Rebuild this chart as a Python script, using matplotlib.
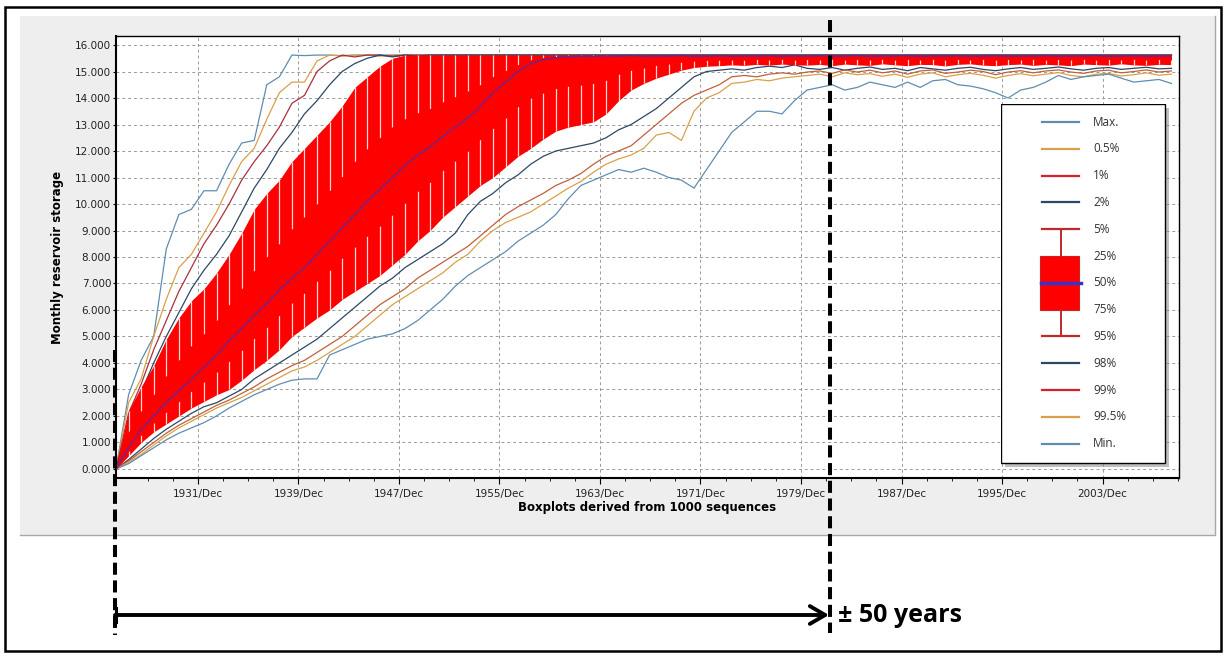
import numpy as np
import matplotlib
matplotlib.use("Agg")
import matplotlib.pyplot as plt
from matplotlib.patches import Rectangle
from matplotlib.ticker import FixedLocator

# one sample per year, first one in mid 1925
start_year = 1925.4

# storage percentiles (exceedance)
median = [0.0, 0.8, 1.5, 2.0, 2.5, 2.95, 3.4, 3.85, 4.3, 4.85,
          5.3, 5.8, 6.25, 6.75, 7.2, 7.6, 8.1, 8.6, 9.1, 9.6,
          10.1, 10.55, 11.0, 11.45, 11.85, 12.15, 12.55, 12.9, 13.25, 13.7,
          14.2, 14.6, 15.0, 15.3, 15.45, 15.52, 15.56, 15.58, 15.57, 15.59,
          15.58, 15.6, 15.57, 15.59, 15.58, 15.6, 15.57, 15.58, 15.6, 15.57,
          15.59, 15.58, 15.6, 15.57, 15.59, 15.58, 15.6, 15.57, 15.58, 15.6,
          15.57, 15.59, 15.58, 15.6, 15.57, 15.59, 15.58, 15.6, 15.57, 15.58,
          15.6, 15.57, 15.59, 15.58, 15.6, 15.57, 15.59, 15.58, 15.6, 15.57,
          15.58, 15.6, 15.57, 15.59, 15.58]
p5 = [0.0, 2.2, 3.1, 3.9, 4.9, 5.7, 6.35, 6.8, 7.4, 8.1,
      8.9, 9.8, 10.4, 10.9, 11.6, 12.1, 12.6, 13.1, 13.7, 14.4,
      14.8, 15.2, 15.5, 15.62, 15.62, 15.62, 15.62, 15.62, 15.62, 15.62,
      15.62, 15.62, 15.62, 15.62, 15.62, 15.62, 15.62, 15.62, 15.62, 15.62,
      15.62, 15.62, 15.62, 15.62, 15.62, 15.62, 15.62, 15.62, 15.62, 15.62,
      15.62, 15.62, 15.62, 15.62, 15.62, 15.62, 15.62, 15.62, 15.62, 15.62,
      15.62, 15.62, 15.62, 15.62, 15.62, 15.62, 15.62, 15.62, 15.62, 15.62,
      15.62, 15.62, 15.62, 15.62, 15.62, 15.62, 15.62, 15.62, 15.62, 15.62,
      15.62, 15.62, 15.62, 15.62, 15.62]
p25 = [0.0, 1.4, 2.17, 2.8, 3.5, 4.1, 4.64, 5.09, 5.6, 6.2,
       6.8, 7.48, 8.0, 8.5, 9.05, 9.5, 9.99, 10.5, 11.03, 11.6,
       12.07, 12.5, 12.9, 13.2, 13.43, 13.6, 13.84, 14.04, 14.25, 14.5,
       14.8, 15.03, 15.26, 15.43, 15.52, 15.56, 15.6, 15.6, 15.6, 15.6,
       15.61, 15.61, 15.61, 15.61, 15.61, 15.61, 15.61, 15.61, 15.61, 15.61,
       15.61, 15.61, 15.61, 15.61, 15.61, 15.61, 15.61, 15.61, 15.61, 15.61,
       15.61, 15.61, 15.61, 15.61, 15.61, 15.61, 15.61, 15.61, 15.61, 15.61,
       15.61, 15.61, 15.61, 15.61, 15.61, 15.61, 15.61, 15.61, 15.61, 15.61,
       15.61, 15.61, 15.61, 15.61, 15.61]
p75 = [0.0, 0.67, 1.29, 1.75, 2.16, 2.55, 2.94, 3.3, 3.67, 4.07,
       4.48, 4.94, 5.35, 5.8, 6.28, 6.65, 7.1, 7.5, 7.97, 8.38,
       8.8, 9.18, 9.6, 10.04, 10.48, 10.83, 11.27, 11.64, 12.0, 12.44,
       12.86, 13.26, 13.68, 14.0, 14.2, 14.36, 14.45, 14.5, 14.55, 14.68,
       14.9, 15.05, 15.15, 15.24, 15.3, 15.36, 15.4, 15.42, 15.44, 15.45,
       15.44, 15.46, 15.45, 15.47, 15.44, 15.46, 15.45, 15.47, 15.44, 15.46,
       15.45, 15.47, 15.44, 15.46, 15.45, 15.47, 15.44, 15.46, 15.45, 15.47,
       15.44, 15.46, 15.45, 15.47, 15.44, 15.46, 15.45, 15.47, 15.44, 15.46,
       15.45, 15.47, 15.44, 15.46, 15.45]
p95 = [0.0, 0.5, 1.0, 1.4, 1.7, 2.0, 2.3, 2.55, 2.8, 3.0,
       3.35, 3.75, 4.1, 4.5, 5.0, 5.35, 5.7, 6.0, 6.4, 6.7,
       7.0, 7.3, 7.7, 8.1, 8.6, 9.0, 9.5, 9.9, 10.3, 10.7,
       11.0, 11.4, 11.8, 12.1, 12.45, 12.75, 12.9, 13.0, 13.1, 13.4,
       13.9, 14.3, 14.55, 14.75, 14.9, 15.05, 15.15, 15.2, 15.22, 15.25,
       15.23, 15.27, 15.24, 15.28, 15.25, 15.24, 15.27, 15.22, 15.28, 15.25,
       15.23, 15.29, 15.25, 15.22, 15.27, 15.26, 15.21, 15.27, 15.29, 15.24,
       15.22, 15.26, 15.28, 15.23, 15.27, 15.25, 15.22, 15.28, 15.26, 15.24,
       15.29, 15.25, 15.23, 15.27, 15.26]

s_max = [0.0, 2.8, 4.1, 5.0, 8.3, 9.6, 9.8, 10.5, 10.5, 11.5,
         12.3, 12.4, 14.5, 14.8, 15.62, 15.6, 15.62, 15.62, 15.6, 15.62,
         15.62, 15.62, 15.62, 15.62, 15.62, 15.62, 15.62, 15.62, 15.62, 15.62,
         15.62, 15.62, 15.62, 15.62, 15.62, 15.62, 15.62, 15.62, 15.62, 15.62,
         15.62, 15.62, 15.62, 15.62, 15.62, 15.62, 15.62, 15.62, 15.62, 15.62,
         15.62, 15.62, 15.62, 15.62, 15.62, 15.62, 15.62, 15.62, 15.62, 15.62,
         15.62, 15.62, 15.62, 15.62, 15.62, 15.62, 15.62, 15.62, 15.62, 15.62,
         15.62, 15.62, 15.62, 15.62, 15.62, 15.62, 15.62, 15.62, 15.62, 15.62,
         15.62, 15.62, 15.62, 15.62, 15.62]
s_p0_5 = [0.0, 2.5, 3.4, 5.0, 6.4, 7.6, 8.1, 8.9, 9.7, 10.7,
          11.6, 12.1, 13.2, 14.2, 14.6, 14.6, 15.4, 15.62, 15.58, 15.62,
          15.62, 15.58, 15.62, 15.62, 15.62, 15.62, 15.62, 15.62, 15.62, 15.62,
          15.62, 15.62, 15.62, 15.62, 15.62, 15.62, 15.62, 15.62, 15.62, 15.62,
          15.62, 15.62, 15.62, 15.62, 15.62, 15.62, 15.62, 15.62, 15.62, 15.62,
          15.62, 15.62, 15.62, 15.62, 15.62, 15.62, 15.62, 15.62, 15.62, 15.62,
          15.62, 15.62, 15.62, 15.62, 15.62, 15.62, 15.62, 15.62, 15.62, 15.62,
          15.62, 15.62, 15.62, 15.62, 15.62, 15.62, 15.62, 15.62, 15.62, 15.62,
          15.62, 15.62, 15.62, 15.62, 15.62]
s_p1 = [0.0, 2.1, 3.2, 4.5, 5.6, 6.7, 7.6, 8.5, 9.2, 10.0,
        10.9, 11.6, 12.2, 12.9, 13.8, 14.1, 15.0, 15.4, 15.62, 15.55,
        15.62, 15.62, 15.58, 15.62, 15.62, 15.62, 15.62, 15.62, 15.62, 15.62,
        15.62, 15.62, 15.62, 15.62, 15.62, 15.62, 15.62, 15.62, 15.62, 15.62,
        15.62, 15.62, 15.62, 15.62, 15.62, 15.62, 15.62, 15.62, 15.62, 15.62,
        15.62, 15.62, 15.62, 15.62, 15.62, 15.62, 15.62, 15.62, 15.62, 15.62,
        15.62, 15.62, 15.62, 15.62, 15.62, 15.62, 15.62, 15.62, 15.62, 15.62,
        15.62, 15.62, 15.62, 15.62, 15.62, 15.62, 15.62, 15.62, 15.62, 15.62,
        15.62, 15.62, 15.62, 15.62, 15.62]
s_p2 = [0.0, 1.7, 2.9, 4.0, 5.0, 5.9, 6.8, 7.5, 8.1, 8.8,
        9.7, 10.6, 11.3, 12.1, 12.7, 13.4, 13.9, 14.5, 15.0, 15.3,
        15.5, 15.62, 15.55, 15.62, 15.58, 15.62, 15.62, 15.62, 15.62, 15.62,
        15.62, 15.62, 15.62, 15.62, 15.62, 15.62, 15.62, 15.62, 15.62, 15.62,
        15.62, 15.62, 15.62, 15.62, 15.62, 15.62, 15.62, 15.62, 15.62, 15.62,
        15.62, 15.62, 15.62, 15.62, 15.62, 15.62, 15.62, 15.62, 15.62, 15.62,
        15.62, 15.62, 15.62, 15.62, 15.62, 15.62, 15.62, 15.62, 15.62, 15.62,
        15.62, 15.62, 15.62, 15.62, 15.62, 15.62, 15.62, 15.62, 15.62, 15.62,
        15.62, 15.62, 15.62, 15.62, 15.62]
s_p98 = [0.0, 0.35, 0.75, 1.15, 1.5, 1.8, 2.1, 2.35, 2.5, 2.75,
         3.0, 3.4, 3.7, 4.0, 4.3, 4.6, 4.9, 5.3, 5.7, 6.1,
         6.5, 6.9, 7.2, 7.6, 7.9, 8.2, 8.5, 8.9, 9.6, 10.1,
         10.4, 10.8, 11.1, 11.5, 11.8, 12.0, 12.1, 12.2, 12.3, 12.5,
         12.8, 13.0, 13.3, 13.6, 14.0, 14.4, 14.8, 15.0, 15.05, 15.1,
         15.05, 15.15, 15.2, 15.15, 15.25, 15.12, 15.08, 15.15, 15.05, 15.12,
         15.17, 15.08, 15.12, 15.03, 15.15, 15.1, 15.05, 15.12, 15.16, 15.08,
         15.03, 15.1, 15.15, 15.08, 15.12, 15.17, 15.1, 15.05, 15.12, 15.15,
         15.08, 15.12, 15.16, 15.1, 15.12]
s_p99 = [0.0, 0.3, 0.65, 1.0, 1.35, 1.65, 1.9, 2.15, 2.4, 2.6,
         2.85, 3.1, 3.4, 3.65, 3.9, 4.1, 4.4, 4.7, 5.0, 5.4,
         5.8, 6.2, 6.5, 6.8, 7.2, 7.5, 7.8, 8.1, 8.4, 8.8,
         9.2, 9.6, 9.9, 10.15, 10.4, 10.7, 10.9, 11.15, 11.5, 11.8,
         12.0, 12.2, 12.6, 13.0, 13.4, 13.8, 14.1, 14.3, 14.5, 14.8,
         14.85, 14.8, 14.9, 14.95, 14.9, 14.98, 15.02, 14.93, 15.06, 14.98,
         15.05, 14.95, 15.02, 14.9, 15.02, 15.06, 14.93, 14.98, 15.05, 15.0,
         14.88, 14.98, 15.03, 14.95, 15.02, 15.06, 14.98, 14.93, 15.02, 15.05,
         14.95, 15.0, 15.06, 14.98, 15.02]
s_p99_5 = [0.0, 0.25, 0.55, 0.9, 1.25, 1.55, 1.8, 2.05, 2.3, 2.5,
           2.7, 2.95, 3.2, 3.45, 3.7, 3.85, 4.1, 4.4, 4.7, 5.0,
           5.4, 5.8, 6.2, 6.5, 6.8, 7.1, 7.4, 7.8, 8.1, 8.6,
           9.0, 9.3, 9.5, 9.7, 10.0, 10.3, 10.6, 10.85, 11.2, 11.5,
           11.7, 11.85, 12.1, 12.6, 12.7, 12.4, 13.5, 14.0, 14.2, 14.55,
           14.6, 14.7, 14.65, 14.75, 14.8, 14.85, 14.9, 14.8, 14.95, 14.88,
           14.92, 14.82, 14.9, 14.78, 14.9, 14.95, 14.8, 14.88, 14.93, 14.86,
           14.75, 14.85, 14.92, 14.84, 14.9, 14.96, 14.85, 14.8, 14.9, 14.93,
           14.83, 14.88, 14.95, 14.86, 14.9]
s_min = [0.0, 0.2, 0.5, 0.8, 1.1, 1.35, 1.55, 1.75, 2.0, 2.3,
         2.55, 2.8, 3.0, 3.2, 3.35, 3.4, 3.4, 4.3, 4.5, 4.7,
         4.9, 5.0, 5.1, 5.3, 5.6, 6.0, 6.4, 6.9, 7.3, 7.6,
         7.9, 8.2, 8.6, 8.9, 9.2, 9.6, 10.2, 10.7, 10.9, 11.1,
         11.3, 11.2, 11.35, 11.2, 11.0, 10.9, 10.6, 11.3, 12.0, 12.7,
         13.1, 13.5, 13.5, 13.4, 13.9, 14.3, 14.4, 14.5, 14.3, 14.4,
         14.6, 14.5, 14.4, 14.6, 14.4, 14.65, 14.7, 14.5, 14.45, 14.35,
         14.2, 14.0, 14.3, 14.4, 14.6, 14.85, 14.7, 14.8, 14.85, 14.9,
         14.75, 14.6, 14.65, 14.7, 14.55]

tick_years = [1931, 1939, 1947, 1955, 1963, 1971, 1979, 1987, 1995, 2003]
y_ticks = [0, 1, 2, 3, 4, 5, 6, 7, 8, 9, 10, 11, 12, 13, 14, 15, 16]

legend_labels = ['Max.', '0.5%', '1%', '2%', '5%', '25%', '50%', '75%',
                 '95%', '98%', '99%', '99.5%', 'Min.']

c_max = '#5f8db0'
c_05 = '#d9a04a'
c_1 = '#a8303c'
c_99 = '#c0603a'
c_2 = '#2c4866'
c_med = '#4030c0'
c_box = '#ff0000'
c_whisk = '#c0282d'

W, H = 1227, 657
fig = plt.figure(figsize=(W / 100, H / 100), dpi=100)

# grey panel behind the chart
bg = fig.add_axes([0, 0, 1, 1], zorder=-1)
bg.set_xlim(0, W)
bg.set_ylim(H, 0)
bg.axis('off')
bg.add_patch(Rectangle((20, 16), 1195, 519, facecolor='#eeeeee', edgecolor='none'))
bg.plot([1215, 1215, 20], [16, 535, 535], color='#a8a8a8', lw=1)

ax = fig.add_axes([116 / W, 1 - 478 / H, (1179 - 116) / W, (478 - 36) / H])
ax.set_facecolor('white')
t = start_year + np.arange(len(median))

lines = [(s_max, c_max), (s_p0_5, c_05), (s_p1, c_1), (s_p2, c_2),
         (s_p98, c_2), (s_p99, c_99), (s_p99_5, c_05), (s_min, c_max)]
for vals, col in lines:
    ax.plot(t, vals, color=col, lw=0.9, zorder=2)

ax.fill_between(t, p95, p5, color=c_box, lw=0, zorder=3)
# white gaps between neighbouring whiskers
ax.vlines(t[1:], np.array(p25[1:]), np.array(p5[1:]), color='white', lw=0.9, alpha=0.85, zorder=3.5)
ax.vlines(t[1:], np.array(p95[1:]), np.array(p75[1:]), color='white', lw=0.9, alpha=0.85, zorder=3.5)
ax.fill_between(t, p75, p25, color=c_box, lw=0, zorder=3.6)
ax.plot(t, median, color=c_med, lw=1.0, linestyle=(0, (2, 0.6)), zorder=4)

ax.set_xlim(1925.4, 2010.0)
ax.set_ylim(-0.34, 16.34)
ax.xaxis.set_major_locator(FixedLocator([y + 11 / 12 for y in tick_years]))
ax.set_xticklabels(['%d/Dec' % y for y in tick_years])
ax.xaxis.set_minor_locator(FixedLocator(np.arange(1927, 2010, 2) + 11 / 12))
ax.set_yticks(y_ticks)
ax.set_yticklabels(['%.3f' % v for v in y_ticks])
ax.tick_params(axis='x', which='major', length=4, width=0.8, pad=4, labelsize=7.5, labelcolor='#222222')
ax.tick_params(axis='x', which='minor', length=2, width=0.6)
ax.tick_params(axis='y', length=2, width=0.8, pad=1.5, labelsize=7.5, labelcolor='#222222')
ax.grid(True, which='major', color='#9a9a9a', lw=0.7, linestyle=(0, (3, 3)))
ax.set_axisbelow(True)
for side in ['top', 'right']:
    ax.spines[side].set_linewidth(1.0)
for side in ['left', 'bottom']:
    ax.spines[side].set_linewidth(1.5)
ax.set_xlabel('Boxplots derived from 1000 sequences', fontsize=8.5, fontweight='bold', labelpad=1)
ax.set_ylabel('Monthly reservoir storage', fontsize=8.5, fontweight='bold', labelpad=8)

# legend panel drawn by hand (box glyph spans several rows)
lg = fig.add_axes([1001 / W, 1 - 470 / H, 172 / W, 366 / H], zorder=5)
lg.set_xlim(0, 172)
lg.set_ylim(366, 0)
lg.axis('off')
lg.add_patch(Rectangle((4, 4), 164, 359, facecolor='#8c8c8c', alpha=0.55, edgecolor='none'))
lg.add_patch(Rectangle((0, 0), 164, 359, facecolor='white', edgecolor='black', lw=1))
row_y = 18 + 26.8 * np.arange(len(legend_labels))
handle_cols = {0: c_max, 1: c_05, 2: '#d8202c', 3: c_2, 9: c_2, 10: '#d8202c', 11: c_05, 12: c_max}
for i, col in handle_cols.items():
    lg.plot([41, 78], [row_y[i], row_y[i]], color=col, lw=1.6)
lg.plot([41, 78], [row_y[4], row_y[4]], color=c_whisk, lw=1.6)
lg.plot([41, 78], [row_y[8], row_y[8]], color=c_whisk, lw=1.6)
lg.plot([59.5, 59.5], [row_y[4], row_y[5]], color=c_whisk, lw=1.4)
lg.plot([59.5, 59.5], [row_y[7], row_y[8]], color=c_whisk, lw=1.4)
lg.add_patch(Rectangle((39, row_y[5]), 39, row_y[7] - row_y[5], facecolor=c_box, edgecolor='#d02020', lw=0.8))
lg.plot([40, 80], [row_y[6], row_y[6]], color='#3b30c8', lw=2.5)
for y, lab in zip(row_y, legend_labels):
    lg.text(92, y, lab, va='center', ha='left', fontsize=8.5, family='Open Sans', color='#333333')

# annotation overlay
ov = fig.add_axes([0, 0, 1, 1], zorder=6)
ov.set_xlim(0, W)
ov.set_ylim(H, 0)
ov.axis('off')
ov.patch.set_alpha(0)
ov.add_patch(Rectangle((5, 7), 1216, 644, facecolor='none', edgecolor='black', lw=1.8))
ov.plot([115, 115], [350, 635], color='black', lw=2.9, linestyle=(0, (3, 1.4)))
ov.plot([830, 830], [20, 633], color='black', lw=2.9, linestyle=(0, (3, 1.4)))
ov.plot([116, 116], [608, 622], color='black', lw=2.2)
ov.annotate('', xy=(829, 615), xytext=(115, 615),
            arrowprops=dict(arrowstyle='->,head_length=0.55,head_width=0.32',
                            lw=2.8, color='black', shrinkA=0, shrinkB=0, mutation_scale=20))
ov.text(838, 615, '\u00b1 50 years', va='center', ha='left', fontsize=18,
        fontweight='bold', family='Open Sans')

fig.savefig('out.png', dpi=100)
